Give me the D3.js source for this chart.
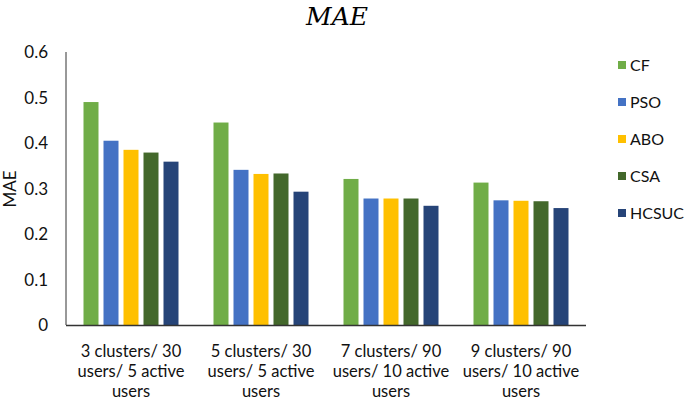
<!DOCTYPE html>
<html><head><meta charset="utf-8">
<script src="https://cdn.jsdelivr.net/npm/d3@7"></script>
<style>body{margin:0;background:#fff}svg{display:block}</style>
</head><body>
<svg id="c" width="685" height="401"></svg>
<script>
const categories = [
  ["3 clusters/ 30","users/ 5 active","users"],
  ["5 clusters/ 30","users/ 5 active","users"],
  ["7 clusters/ 90","users/ 10 active","users"],
  ["9 clusters/ 90","users/ 10 active","users"]
];
const seriesNames = ["CF","PSO","ABO","CSA","HCSUC"];
const CF    = [0.490, 0.445, 0.321, 0.313];
const PSO   = [0.405, 0.341, 0.278, 0.274];
const ABO   = [0.385, 0.332, 0.278, 0.273];
const CSA   = [0.379, 0.333, 0.278, 0.272];
const HCSUC = [0.359, 0.293, 0.262, 0.257];
const yTicks = [0, 0.1, 0.2, 0.3, 0.4, 0.5, 0.6];
const colors = ["#70AD47","#4472C4","#FFC000","#43682B","#264478"];
const values = [CF, PSO, ABO, CSA, HCSUC];

const svg = d3.select("#c");
const font = "Lato, 'Open Sans', sans-serif";
const x0 = d3.scaleBand().domain(d3.range(categories.length)).range([66, 586]).paddingInner(0).paddingOuter(0);
const x1 = d3.scaleBand().domain(seriesNames).range([17.5, 112.5]).paddingInner(0.25);
const y = d3.scaleLinear().domain([0, 0.6]).range([325, 52]);

svg.append("text").attr("x", 337).attr("y", 25).attr("text-anchor","middle")
  .attr("font-family","'DejaVu Serif', serif").attr("font-style","italic")
  .attr("font-size", 25).attr("fill","#000").text("MAE");

// y tick labels
svg.append("g").selectAll("text").data(yTicks).join("text")
  .attr("x", 48).attr("y", d => y(d) + 6).attr("text-anchor","end")
  .attr("font-family", font).attr("font-size", 17).attr("fill","#111")
  .text(d => d === 0 ? "0" : d3.format(".1f")(d));

svg.append("text").attr("transform","translate(16,189) rotate(-90)")
  .attr("text-anchor","middle").attr("font-family", font).attr("font-size", 17)
  .attr("fill","#111").text("MAE");

// bars
const g = svg.append("g");
seriesNames.forEach((s, si) => {
  g.append("g").selectAll("rect").data(values[si]).join("rect")
    .attr("x", (d, i) => x0(i) + x1(s))
    .attr("y", d => y(d))
    .attr("width", x1.bandwidth())
    .attr("height", d => y(0) - y(d))
    .attr("fill", colors[si]);
});

// axes lines
svg.append("line").attr("x1",66).attr("x2",66).attr("y1",y(0.6)).attr("y2",y(0))
  .attr("stroke","#333").attr("stroke-width",1);
svg.append("line").attr("x1",66).attr("x2",586).attr("y1",y(0)+0.5).attr("y2",y(0)+0.5)
  .attr("stroke","#333").attr("stroke-width",1.3);

// x labels
categories.forEach((lines, i) => {
  const t = svg.append("text").attr("text-anchor","middle")
    .attr("font-family", font).attr("font-size", 16.5).attr("fill","#111");
  lines.forEach((l, li) => {
    t.append("tspan").attr("x", x0(i) + x0.bandwidth()/2).attr("y", 357 + li*20).text(l);
  });
});

// legend
const lg = svg.append("g").selectAll("g").data(seriesNames).join("g")
  .attr("transform", (d, i) => `translate(618, ${65 + i*37})`);
lg.append("rect").attr("x",0).attr("y",-4).attr("width",8).attr("height",8)
  .attr("fill", (d, i) => colors[i]);
lg.append("text").attr("x", 12).attr("y", 5.5).attr("font-family", font)
  .attr("font-size", 16).attr("fill","#111").text(d => d);
</script>
</body></html>
